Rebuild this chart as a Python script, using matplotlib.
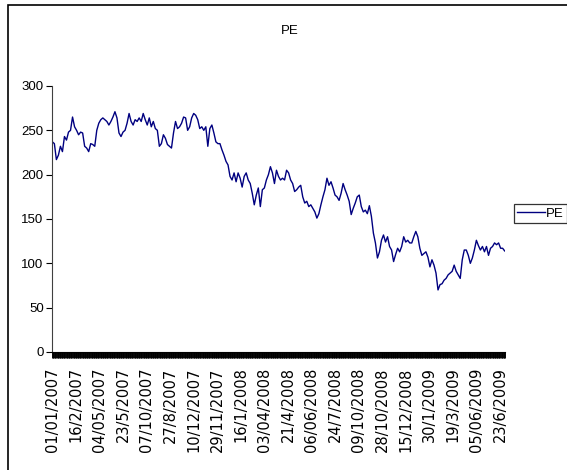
import numpy as np
import matplotlib.pyplot as plt
from matplotlib.patches import Rectangle

# PE values, roughly every 3 trading days
pe = [237, 235, 217, 222, 232, 226, 243, 239, 248, 250,
      265, 254, 250, 245, 248, 247, 232, 230, 226, 235,
      234, 232, 250, 258, 262, 264, 262, 260, 256, 260,
      265, 271, 264, 247, 243, 248, 250, 258, 269, 260,
      256, 262, 260, 264, 260, 269, 262, 256, 264, 254,
      260, 252, 250, 232, 235, 245, 241, 234, 232, 230,
      247, 260, 252, 254, 258, 265, 264, 250, 254, 264,
      269, 267, 262, 252, 254, 250, 254, 232, 252, 256,
      247, 237, 235, 235, 228, 222, 215, 211, 198, 194,
      202, 192, 202, 196, 186, 198, 202, 194, 190, 179,
      166, 177, 185, 164, 183, 185, 194, 200, 209,
      202, 190, 205, 198, 194, 196, 194, 205, 202, 194,
      190, 181, 183, 186, 188, 175, 168, 170, 164, 166,
      162, 158, 151, 156, 166, 175, 183, 196, 188, 192,
      185, 177, 175, 171, 179, 190, 183, 177, 170, 155,
      162, 168, 175, 177, 164, 158, 160, 156, 165,
      153, 134, 123, 106, 113, 126, 132, 124, 130, 119,
      115, 102, 110, 117, 113, 119, 130, 124, 126, 123,
      123, 130, 136, 130, 117, 109, 111, 113, 107, 96,
      104, 98, 89, 70, 76, 77, 81, 83, 87, 89,
      91, 98, 91, 87, 83, 104, 115, 115, 109, 100,
      106, 115, 126, 120, 115, 119, 113, 119, 109, 117,
      119, 123, 121, 123, 117, 117, 114]

n_days = 653          # trading days on the category axis
label_step = 34       # a date label every 34 categories
date_labels = ["01/01/2007", "16/2/2007", "04/05/2007", "23/5/2007", "07/10/2007",
               "27/8/2007", "10/12/2007", "29/11/2007", "16/1/2008", "03/04/2008",
               "21/4/2008", "06/06/2008", "24/7/2008", "09/10/2008", "28/10/2008",
               "15/12/2008", "30/1/2009", "19/3/2009", "05/06/2009", "23/6/2009"]

days = np.linspace(0, n_days - 1, len(pe))
navy = "#000080"

fig = plt.figure(figsize=(5.67, 4.70), dpi=100)
ax = fig.add_axes([52/567, 1 - 352/470, 453/567, 266/470])

ax.plot(days, pe, color=navy, linewidth=1.0, label="PE")

ax.set_ylim(0, 300)
ax.set_yticks(np.arange(0, 301, 50))
ax.set_xlim(-0.5, n_days - 0.5)

ax.set_xticks(np.arange(len(date_labels)) * label_step)
ax.set_xticklabels(date_labels, rotation=90, fontsize=10.5,
                   family="DejaVu Sans", va="top")
ax.set_xticks(np.arange(n_days + 1) - 0.5, minor=True)
ax.tick_params(axis="x", which="both", direction="out", length=4.5,
               width=0.7, color="black", pad=11)
ax.tick_params(axis="x", which="major", length=0)
ax.tick_params(axis="y", direction="out", length=4, width=0.8,
               labelsize=9.5, pad=2)
for lab in ax.get_yticklabels():
    lab.set_family("Liberation Sans")

for s in ["top", "right"]:
    ax.spines[s].set_visible(False)
ax.spines["left"].set_color("#404040")
ax.spines["bottom"].set_color("black")

fig.text(290/567, 1 - 31/470, "PE", ha="center", va="center",
         fontsize=9.5, family="Liberation Sans")

leg = fig.legend(loc="center left", bbox_to_anchor=(514/567, 1 - 213.5/470),
                 frameon=True, fancybox=False, prop={"family": "Liberation Sans", "size": 9.5},
                 handlelength=2.1, handletextpad=0.1, borderpad=0.25,
                 borderaxespad=0)
leg.get_frame().set_edgecolor("black")
leg.get_frame().set_linewidth(0.9)

# chart-area border (runs off the right and bottom edges)
fig.patches.append(Rectangle((8/567, -0.05), 1.1, 1.05 - 5/470,
                             transform=fig.transFigure, fill=False,
                             edgecolor="black", linewidth=1.2))

fig.savefig("out.png", dpi=100)
